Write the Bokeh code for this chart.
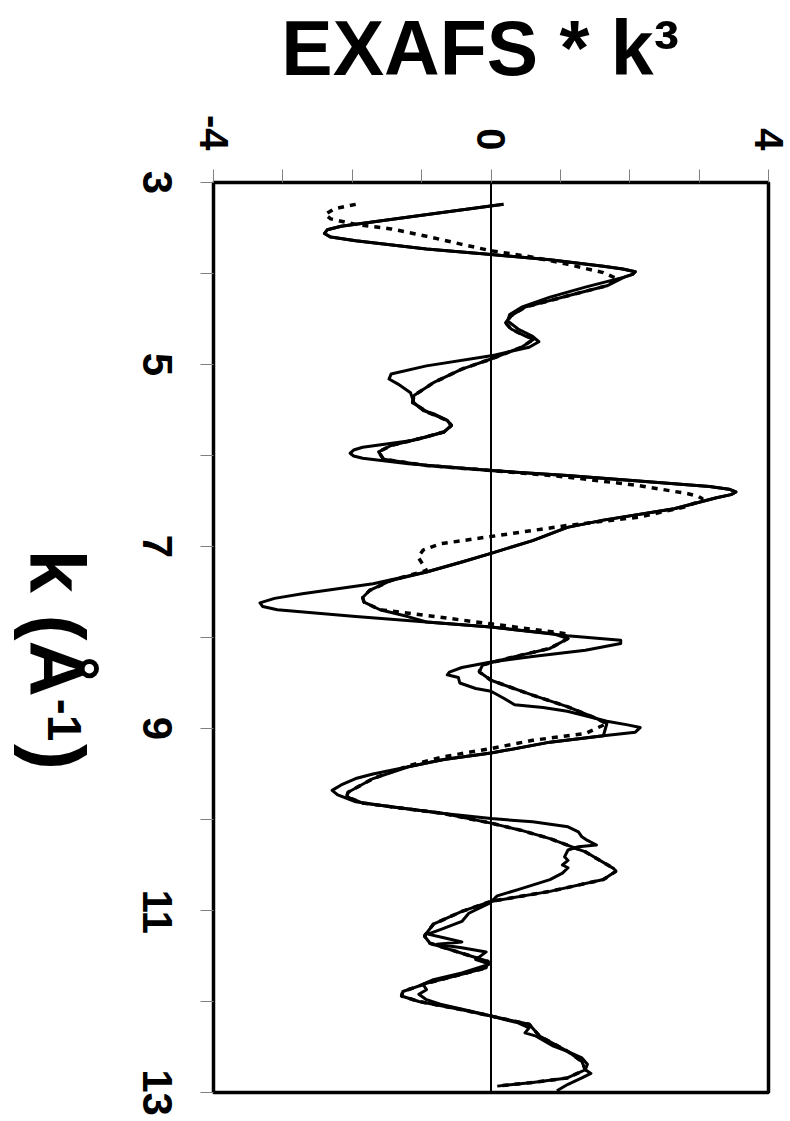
import math
from bokeh.plotting import figure
from bokeh.layouts import row
from bokeh.models import Range1d, FixedTicker, LinearAxis
from bokeh.core.properties import value
from bokeh.embed import file_html
from bokeh.resources import INLINE

# ---- data (k in 1/Angstrom, EXAFS*k^3) ----
k_exp = [3.24, 3.35, 3.46, 3.48, 3.52, 3.56, 3.60, 3.64, 3.73, 3.79, 3.85, 3.92, 3.95, 3.98, 4.01, 4.04,
         4.15, 4.26, 4.37, 4.45, 4.52, 4.61, 4.69, 4.75, 4.81, 4.905, 5.015, 5.105, 5.16, 5.215,
         5.31, 5.42, 5.505, 5.54, 5.615, 5.67, 5.745, 5.835, 5.91, 5.94, 5.975, 6.005, 6.03, 6.09, 6.165,
         6.22, 6.28, 6.34, 6.37, 6.40, 6.43, 6.465, 6.585, 6.71, 6.79, 6.935, 7.075, 7.17, 7.28, 7.41, 7.52,
         7.57, 7.62, 7.66, 7.695, 7.77, 7.83, 7.885, 7.98, 8.03, 8.065, 8.14, 8.21, 8.27, 8.33, 8.38, 8.41,
         8.44, 8.50, 8.56, 8.59, 8.67, 8.74, 8.77, 8.81, 8.86, 8.92, 8.96, 8.99, 9.04, 9.08,
         9.15, 9.27, 9.34, 9.42, 9.50, 9.55, 9.62, 9.68, 9.73, 9.805, 9.86, 9.935, 9.99, 10.025,
         10.08, 10.135, 10.19, 10.23, 10.28, 10.30, 10.335, 10.41, 10.45, 10.50, 10.53, 10.59,
         10.66, 10.77, 10.84, 10.92, 11.03, 11.12, 11.21, 11.26, 11.30, 11.345, 11.37, 11.41,
         11.455, 11.54, 11.59, 11.685, 11.76, 11.81, 11.87, 11.92, 11.98, 12.03, 12.10, 12.16,
         12.235, 12.29, 12.345, 12.38, 12.49, 12.55, 12.62, 12.69, 12.75, 12.79, 12.84, 12.91,
         12.98]
chi_exp = [0.18, -0.89, -1.95, -2.16, -2.36, -2.40, -2.31, -1.95, -0.93, 0.00, 0.85, 1.62, 1.90, 2.08, 2.04, 1.92,
           1.36, 0.85, 0.44, 0.27, 0.24, 0.39, 0.60, 0.69, 0.55, 0.00, -0.93, -1.44, -1.47, -1.34,
           -1.16, -1.11, -0.98, -0.83, -0.63, -0.57, -0.68, -1.14, -1.85, -1.98, -2.03, -1.98, -1.85, -1.19, 0.00,
           1.10, 2.13, 3.15, 3.43, 3.53, 3.46, 3.25, 2.64, 1.62, 1.10, 0.60, 0.00, -0.42, -0.93, -1.70, -2.72,
           -3.12, -3.33, -3.29, -3.08, -1.95, -0.93, 0.00, 1.10, 1.87, 1.87, 1.36, 0.60, 0.00, -0.42, -0.60, -0.63,
           -0.47, -0.45, -0.22, 0.00, 0.19, 0.34, 0.75, 1.10, 1.36, 1.67, 1.97, 2.15, 2.08, 1.62,
           0.85, 0.00, -0.68, -1.19, -1.70, -1.95, -2.16, -2.29, -2.21, -1.95, -1.44, -0.68, 0.00, 0.60,
           1.11, 1.26, 1.31, 1.39, 1.52, 1.26, 1.11, 1.06, 1.11, 1.03, 1.11, 1.03,
           0.85, 0.39, 0.09, -0.02, -0.32, -0.42, -0.73, -0.91, -0.68, -0.42, -0.78, -0.42,
           -0.07, -0.22, -0.02, -0.42, -0.83, -0.98, -0.93, -1.04, -0.93, -0.73, -0.32, 0.00,
           0.39, 0.55, 0.49, 0.65, 0.90, 1.11, 1.31, 1.39, 1.36, 1.44, 1.31, 1.11,
           0.95]

k_fit1 = [3.24, 3.35, 3.46, 3.48, 3.52, 3.56, 3.60, 3.64, 3.73, 3.79, 3.85, 3.92, 3.95, 3.98, 4.01, 4.04,
          4.135, 4.245, 4.37, 4.465, 4.54, 4.61, 4.685, 4.72, 4.81, 4.94, 5.05, 5.20, 5.34, 5.42,
          5.53, 5.615, 5.67, 5.74, 5.80, 5.89, 5.96, 6.04, 6.11, 6.165, 6.22, 6.28, 6.34, 6.37, 6.40,
          6.43, 6.465, 6.585, 6.71, 6.79, 6.935, 7.075, 7.17, 7.28, 7.373, 7.483, 7.56, 7.611, 7.695,
          7.77, 7.83, 7.885, 7.96, 8.011, 8.12, 8.21, 8.30, 8.377, 8.47, 8.634, 8.762, 8.89, 8.945,
          9.08, 9.15, 9.27, 9.34, 9.42, 9.55, 9.70, 9.75, 9.82, 9.86, 9.935, 10.04, 10.12, 10.21,
          10.355, 10.54, 10.57, 10.66, 10.79, 10.90, 11.01, 11.15, 11.28, 11.36, 11.47, 11.56,
          11.63, 11.70, 11.80, 11.89, 11.94, 12.00, 12.09, 12.16, 12.25, 12.38, 12.55, 12.66,
          12.75, 12.84, 12.89, 12.93]
chi_fit1 = [0.18, -0.89, -1.95, -2.16, -2.36, -2.40, -2.31, -1.95, -0.93, 0.00, 0.85, 1.62, 1.90, 2.08, 2.04, 1.92,
            1.67, 1.11, 0.49, 0.29, 0.21, 0.29, 0.49, 0.62, 0.44, 0.00, -0.42, -0.83, -1.11, -1.13,
            -0.90, -0.63, -0.57, -0.68, -0.95, -1.44, -1.62, -1.55, -0.93, 0.00, 1.10, 2.13, 3.15, 3.43, 3.53,
            3.46, 3.25, 2.64, 1.62, 1.10, 0.60, 0.00, -0.42, -0.93, -1.44, -1.75, -1.85, -1.83, -1.60,
            -1.20, -0.93, 0.00, 0.90, 1.11, 0.85, 0.34, -0.12, -0.17, 0.00, 0.60, 1.11, 1.52, 1.67,
            1.62, 0.85, 0.00, -0.68, -1.19, -1.70, -2.06, -2.08, -1.85, -1.44, -0.68, 0.00, 0.44, 0.85,
            1.36, 1.77, 1.80, 1.62, 0.85, 0.00, -0.42, -0.83, -0.96, -0.88, -0.42, -0.04,
            -0.07, -0.42, -0.93, -1.27, -1.29, -1.04, -0.42, 0.00, 0.55, 0.70, 1.11, 1.31,
            1.36, 1.10, 0.60, 0.09]

k_fit2 = [3.24, 3.29, 3.35, 3.40, 3.46, 3.51, 3.59, 3.68, 3.75, 3.82, 3.90, 3.99, 4.06, 4.135,
          4.245, 4.37, 4.465, 4.54, 4.61, 4.685, 4.72, 4.81, 4.94, 5.05, 5.20, 5.34, 5.42, 5.53,
          5.615, 5.67, 5.74, 5.80, 5.89, 5.96, 6.04, 6.11, 6.165, 6.237, 6.33, 6.42, 6.45, 6.476, 6.50, 6.567,
          6.677, 6.769, 6.89, 6.97, 7.04, 7.117, 7.20, 7.263, 7.373, 7.483, 7.56, 7.611, 7.695,
          7.758, 7.85, 7.96, 8.011, 8.12, 8.21, 8.30, 8.377, 8.47, 8.634, 8.762, 8.89, 8.945,
          9.055, 9.13, 9.22, 9.31, 9.41, 9.55, 9.70, 9.75, 9.82, 9.86, 9.935, 10.04, 10.12, 10.21,
          10.355, 10.54, 10.57, 10.66, 10.79, 10.90, 11.01, 11.15, 11.28, 11.36, 11.47, 11.56,
          11.63, 11.70, 11.80, 11.89, 11.94, 12.00, 12.09, 12.16, 12.25, 12.38, 12.55, 12.66,
          12.75, 12.84, 12.89, 12.93]
chi_fit2 = [-1.95, -2.26, -2.39, -2.31, -1.95, -1.44, -0.93, -0.42, 0.00, 0.60, 1.11, 1.62, 1.82, 1.67,
            1.11, 0.49, 0.29, 0.21, 0.29, 0.49, 0.62, 0.44, 0.00, -0.42, -0.83, -1.11, -1.13, -0.90,
            -0.63, -0.57, -0.68, -0.95, -1.44, -1.62, -1.55, -0.93, 0.00, 1.10, 2.13, 2.84, 2.99, 3.05, 3.01, 2.79,
            2.13, 1.10, 0.00, -0.73, -0.98, -1.05, -0.98, -0.93, -1.44, -1.75, -1.85, -1.83, -1.60,
            -0.93, 0.00, 1.10, 1.11, 0.85, 0.34, -0.12, -0.17, 0.00, 0.60, 1.11, 1.52, 1.67,
            1.36, 0.60, 0.00, -0.68, -1.19, -1.70, -2.06, -2.08, -1.85, -1.44, -0.68, 0.00, 0.44, 0.85,
            1.36, 1.77, 1.80, 1.62, 0.85, 0.00, -0.42, -0.83, -0.96, -0.88, -0.42, -0.04,
            -0.07, -0.42, -0.93, -1.27, -1.29, -1.04, -0.42, 0.00, 0.55, 0.70, 1.11, 1.31,
            1.36, 1.10, 0.60, 0.09]

X_MIN, X_MAX = -4, 4
x_major_ticks = [-4, 0, 4]
x_minor_ticks = [-3, -2, -1, 1, 2, 3]
x_tick_labels = {-4: "-4", 0: "0", 4: "4"}
K_MIN, K_MAX = 3, 13
k_major_ticks = [3, 5, 7, 9, 11, 13]
k_minor_ticks = [4, 6, 8, 10, 12]
title_text = "EXAFS * k³"
k_title_parts = ["k (Å", "-1", ")"]

FONT = "Liberation Sans"
ROT_CW = -math.pi / 2
TICK_PX = 42
H = 1121
W_LEFT = 120                      # strip holding the rotated k-axis title
BOX_L, BOX_R, BOX_T, BOX_B = 213, 768, 182, 1092   # wanted plot box (page px)
PX_PER_K = (BOX_B - BOX_T) / (K_MAX - K_MIN)
PX_PER_X = (BOX_R - BOX_L) / (X_MAX - X_MIN)
PAD_L = PAD_R = 4                 # frame margin around the box, so the box line is not clipped
PAD_T, PAD_B = 9, 27              # frame margin; room for the rotated end labels

x_range = Range1d(X_MIN - PAD_L / PX_PER_X, X_MAX + PAD_R / PX_PER_X)
y_range = Range1d(K_MAX + PAD_B / PX_PER_K, K_MIN - PAD_T / PX_PER_K)

# ---------------- main plot ----------------
p = figure(width=790 - W_LEFT, height=H, x_range=x_range, y_range=y_range,
           x_axis_location="above", y_axis_location="left",
           output_backend="svg", toolbar_location=None,
           min_border_left=BOX_L - PAD_L - W_LEFT, min_border_right=790 - BOX_R - PAD_R,
           min_border_top=BOX_T - PAD_T, min_border_bottom=H - BOX_B - PAD_B)
p.title.visible = False
p.xgrid.visible = False
p.ygrid.visible = False
p.background_fill_color = "white"
p.border_fill_color = "white"
p.outline_line_color = None


def style_ticks(ax, tick_in, tick_out):
    ax.axis_line_color = None
    ax.major_tick_in = tick_in
    ax.major_tick_out = tick_out
    ax.minor_tick_in = tick_in
    ax.minor_tick_out = tick_out
    ax.major_tick_line_color = "#808080"
    ax.minor_tick_line_color = "#808080"
    ax.major_tick_line_width = 1
    ax.minor_tick_line_width = 1


# top axis: EXAFS*k^3, ticks reach down to the box edge
xa = p.xaxis[0]
xa.ticker = FixedTicker(ticks=x_major_ticks, minor_ticks=x_minor_ticks)
style_ticks(xa, PAD_T, 13 - PAD_T)
xa.major_label_text_font = FONT
xa.major_label_text_font_style = "bold"
xa.major_label_text_font_size = "40px"
xa.major_label_text_color = "black"
xa.major_label_orientation = ROT_CW
xa.major_label_overrides = x_tick_labels
xa.major_label_standoff = 19
xa.axis_label = title_text + "\u00a0"
xa.axis_label_text_font = FONT
xa.axis_label_text_font_style = "bold"
xa.axis_label_text_font_size = "77px"
xa.axis_label_text_color = "black"
xa.axis_label_standoff = 21

# left axis: tick marks only (reaching the box edge)
ya = p.yaxis[0]
ya.ticker = FixedTicker(ticks=k_major_ticks, minor_ticks=k_minor_ticks)
style_ticks(ya, PAD_L, 13 - PAD_L)
ya.major_label_text_color = None
ya.major_label_standoff = 0

# left axis: rotated tick labels; rotated labels are anchored at their end,
# so the anchor is moved by half the label length to centre them on the tick
def half_len(t):
    return len(str(t)) * 0.556 * TICK_PX / 2 / PX_PER_K

lab_pos = [t + half_len(t) for t in k_major_ticks]
yl = LinearAxis(ticker=FixedTicker(ticks=lab_pos, minor_ticks=[]),
                major_label_overrides={lp: str(t) for lp, t in zip(lab_pos, k_major_ticks)},
                axis_line_color=None, major_tick_line_color=None, minor_tick_line_color=None,
                major_tick_in=0, major_tick_out=0, minor_tick_in=0, minor_tick_out=0,
                major_label_standoff=43, major_label_orientation=ROT_CW,
                major_label_text_font=FONT, major_label_text_font_style="bold",
                major_label_text_font_size=f"{TICK_PX}px", major_label_text_color="black")
p.add_layout(yl, "left")

# plot box and zero line
p.quad(left=[X_MIN], right=[X_MAX], top=[K_MIN], bottom=[K_MAX],
       fill_color=None, line_color="black", line_width=3.5)
p.segment(x0=[0], y0=[K_MIN], x1=[0], y1=[K_MAX], line_color="black", line_width=2)

p.line(chi_fit2, k_fit2, line_color="black", line_width=3.5, line_dash="6 6")
p.line(chi_fit1, k_fit1, line_color="black", line_width=3, line_join="round")
p.line(chi_exp, k_exp, line_color="black", line_width=3, line_join="round")

# ---------------- left strip: rotated k-axis title ----------------
q = figure(width=W_LEFT, height=H, x_range=Range1d(0, W_LEFT), y_range=y_range,
           x_axis_type=None, y_axis_type=None,
           output_backend="svg", toolbar_location=None,
           min_border=0, min_border_left=0, min_border_right=0,
           min_border_top=0, min_border_bottom=0)
q.title.visible = False
q.xgrid.visible = False
q.ygrid.visible = False
q.outline_line_color = None
q.background_fill_color = "white"
q.border_fill_color = "white"

BASE_SHIFT = 0.37                 # measured offset of rotated text baseline (in em)
k_start = K_MIN + (549 - BOX_T) / PX_PER_K
w_main = 1.889 * 78 / PX_PER_K
w_sup = 0.889 * 48 / PX_PER_K
q.text(x=[28 + BASE_SHIFT * 78], y=[k_start], text=[k_title_parts[0]], angle=ROT_CW,
       text_align="left", text_baseline="alphabetic",
       text_font=value(FONT), text_font_style="bold", text_font_size="78px", text_color="black")
q.text(x=[46 + BASE_SHIFT * 48], y=[k_start + w_main + 0.02], text=[k_title_parts[1]], angle=ROT_CW,
       text_align="left", text_baseline="alphabetic",
       text_font=value(FONT), text_font_style="bold", text_font_size="48px", text_color="black")
q.text(x=[28 + BASE_SHIFT * 78], y=[k_start + w_main + w_sup + 0.05], text=[k_title_parts[2]],
       angle=ROT_CW, text_align="left", text_baseline="alphabetic",
       text_font=value(FONT), text_font_style="bold", text_font_size="78px", text_color="black")

layout = row(q, p)
open("out.html", "w").write(file_html(layout, INLINE))
